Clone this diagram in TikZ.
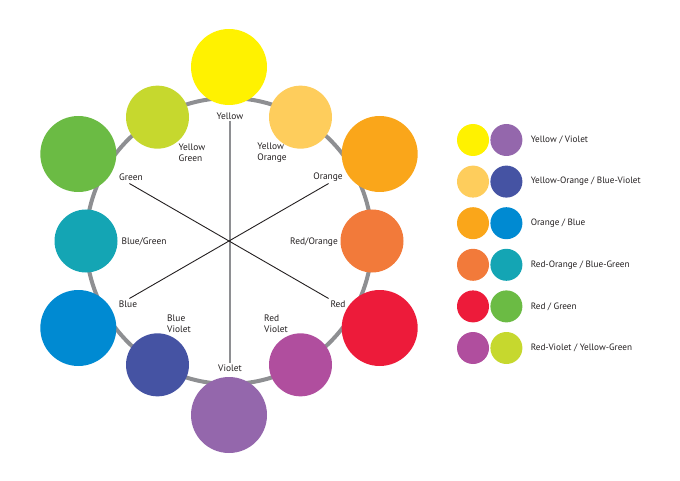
\documentclass[tikz,border=0pt]{standalone}
\usepackage{fontspec}
\setmainfont{PT Sans}
\usetikzlibrary{positioning}

\definecolor{cwYellow}{RGB}{255,242,0}
\definecolor{cwYellowOrange}{RGB}{254,205,92}
\definecolor{cwOrange}{RGB}{250,166,26}
\definecolor{cwRedOrange}{RGB}{242,122,58}
\definecolor{cwRed}{RGB}{237,27,58}
\definecolor{cwRedViolet}{RGB}{176,78,158}
\definecolor{cwViolet}{RGB}{148,103,172}
\definecolor{cwBlueViolet}{RGB}{69,83,163}
\definecolor{cwBlue}{RGB}{0,138,210}
\definecolor{cwBlueGreen}{RGB}{20,165,180}
\definecolor{cwGreen}{RGB}{107,187,68}
\definecolor{cwYellowGreen}{RGB}{198,216,46}
\definecolor{ringgray}{RGB}{142,143,146}
\definecolor{inktext}{RGB}{35,31,32}

\begin{document}
\begin{tikzpicture}[x=1pt, y=1pt,
    % Styles
    bigdot/.style={circle, minimum size=76pt, inner sep=0pt},
    smalldot/.style={circle, minimum size=63pt, inner sep=0pt},
    wheellabel/.style={font=\fontsize{9.4}{11}\selectfont, text=inktext, align=left, inner sep=1pt},
    legenddot/.style={circle, minimum size=32pt, inner sep=0pt},
    legendtext/.style={font=\fontsize{9.2}{11}\selectfont, text=inktext, inner sep=0pt},
    ring/.style={draw=ringgray, line width=4pt},
    midspoke/.style={draw=ringgray, line width=1.6pt},
    spoke/.style={draw=inktext, line width=0.9pt},
    node distance=1pt
]
    \useasboundingbox (0,0) rectangle (680,480);

    % Hub of the wheel and the grey ring
    \coordinate (hub) at (229,239);
    \draw[ring] (hub) circle[radius=143];

    % Large circles (primaries and secondaries)
    \foreach \ang/\col/\name in {90/cwYellow/yellow, 30/cwOrange/orange, -30/cwRed/red,
                                 -90/cwViolet/violet, -150/cwBlue/blue, 150/cwGreen/green}
        \node[bigdot, fill=\col] (\name) at ([shift={(\ang:174)}]hub) {};

    % Small circles (tertiaries)
    \foreach \ang/\col/\name in {60/cwYellowOrange/yelor, 0/cwRedOrange/redor, -60/cwRedViolet/redvi,
                                 -120/cwBlueViolet/bluvi, 180/cwBlueGreen/blugr, 120/cwYellowGreen/yelgr}
        \node[smalldot, fill=\col] (\name) at ([shift={(\ang:143)}]hub) {};

    % Wheel labels
    \node[wheellabel] (yellowlbl) at (230,364) {Yellow};
    \node[wheellabel] (yelgrlbl)  at (192,327) {Yellow\\Green};
    \node[wheellabel] (yelorlbl)  at (272,327) {Yellow\\Orange};
    \node[wheellabel] (greenlbl)  at (131,303) {Green};
    \node[wheellabel] (orangelbl) at (328,303) {Orange};
    \node[wheellabel] (blugrlbl)  at (144,238) {Blue/Green};
    \node[wheellabel] (redorlbl)  at (314,238) {Red/Orange};
    \node[wheellabel] (bluelbl)   at (128,176) {Blue};
    \node[wheellabel] (redlbl)    at (338,176) {Red};
    \node[wheellabel] (bluvilbl)  at (179,156) {Blue\\Violet};
    \node[wheellabel] (redvilbl)  at (276,156) {Red\\Violet};
    \node[wheellabel] (violetlbl) at (230,112) {Violet};

    % Spokes joining complementary pairs
    \coordinate (greenend)  at ([shift={(150:115)}]hub);
    \coordinate (redend)    at ([shift={(-30:115)}]hub);
    \coordinate (orangeend) at ([shift={(30:115)}]hub);
    \coordinate (blueend)   at ([shift={(-150:115)}]hub);
    \draw[midspoke] (yellowlbl.south) -- (violetlbl.north);
    \draw[spoke] (greenend) -- (redend);
    \draw[spoke] (orangeend) -- (blueend);

    % Legend of complementary pairs
    \foreach \cola/\colb/\txt [count=\i] in {
        cwYellow/cwViolet/{Yellow / Violet},
        cwYellowOrange/cwBlueViolet/{Yellow-Orange / Blue-Violet},
        cwOrange/cwBlue/{Orange / Blue},
        cwRedOrange/cwBlueGreen/{Red-Orange / Blue-Green},
        cwRed/cwGreen/{Red / Green},
        cwRedViolet/cwYellowGreen/{Red-Violet / Yellow-Green}} {
        \node[legenddot, fill=\cola] (pairl\i) at (473, 381.6-41.6*\i) {};
        \node[legenddot, fill=\colb, right=of pairl\i] (pairr\i) {};
        \node[legendtext, right=8pt of pairr\i] (pairt\i) {\txt};
    }
\end{tikzpicture}
\end{document}
